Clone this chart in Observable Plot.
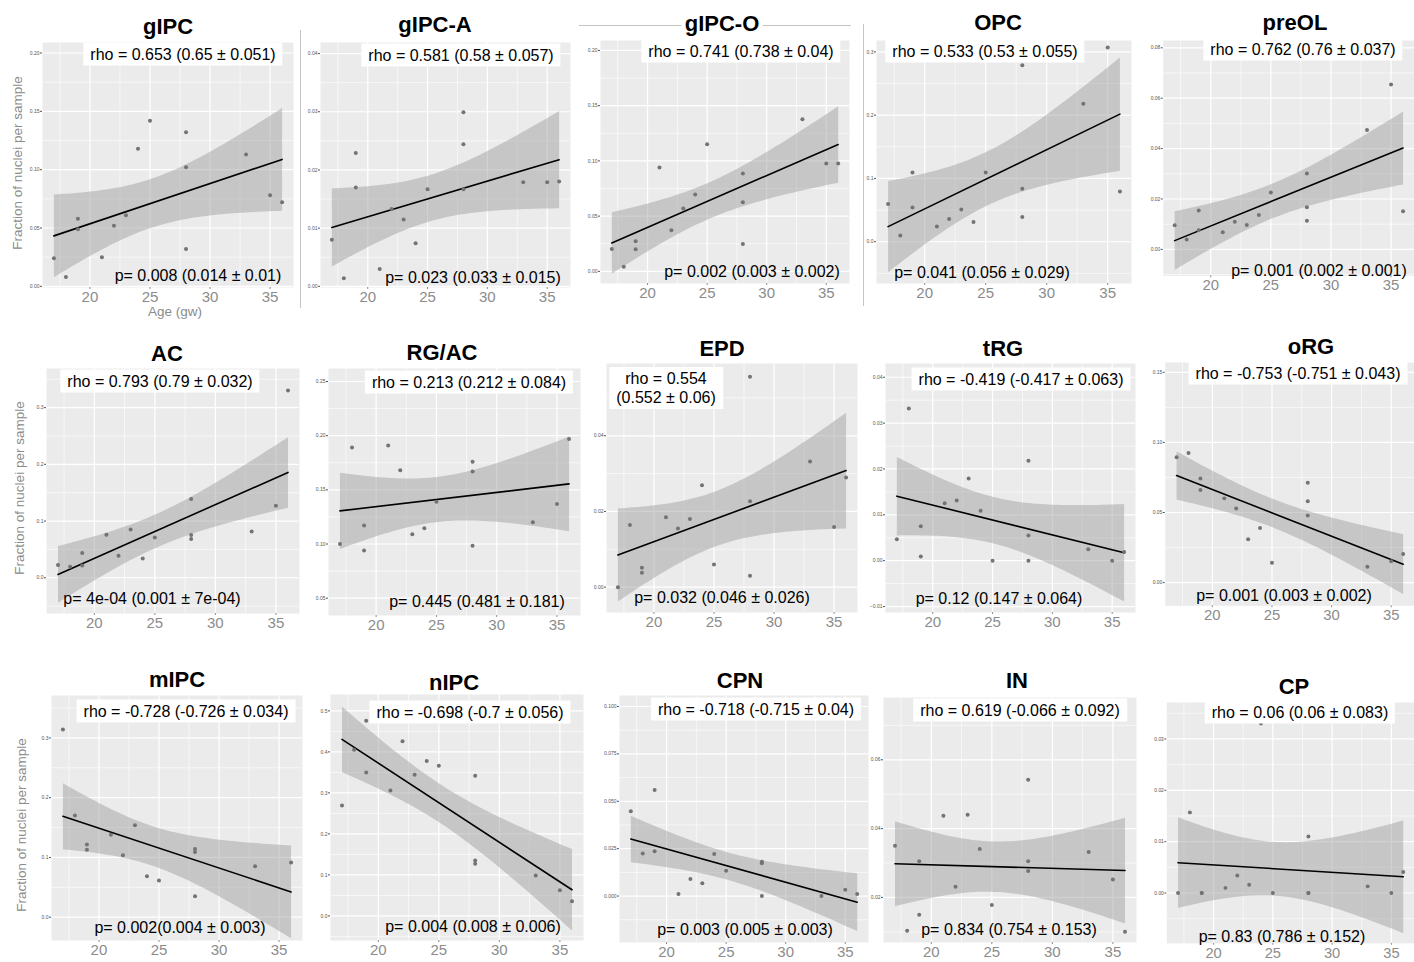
<!DOCTYPE html>
<html><head><meta charset="utf-8">
<script src="https://cdn.jsdelivr.net/npm/d3@7"></script>
<script src="https://cdn.jsdelivr.net/npm/@observablehq/plot@0.6"></script>
<style>
body{margin:0;background:#fff;font-family:"Liberation Sans",Arial,sans-serif;}
#root{position:relative;width:1414px;height:962px;overflow:hidden;background:#fff;}
.panel{position:absolute;}
.title{position:absolute;font-weight:bold;font-size:22px;line-height:22px;transform:translate(-50%,-50%);white-space:nowrap;color:#000;background:#fff;padding:0 3px;}
.rho{position:absolute;background:#fff;font-size:16px;line-height:19px;transform:translate(-50%,-50%);white-space:nowrap;padding:2px 7px;text-align:center;color:#000;}
.pv{position:absolute;font-size:16px;line-height:19px;transform:translate(-50%,-50%);white-space:nowrap;color:#000;}
.ylab{position:absolute;font-size:13.5px;color:#8c8c8c;white-space:nowrap;transform:translate(-50%,-50%) rotate(-90deg);}
.xlab{position:absolute;font-size:13.5px;color:#8c8c8c;white-space:nowrap;transform:translate(-50%,-50%);}
.deco{position:absolute;background:#c4c4c4;}
</style>
</head><body>
<div id="root"></div>
<script>
// ---------------- DATA ----------------
const ages = [17, 18, 19, 19, 21, 22, 23, 24, 25, 28, 28, 28, 33, 35, 36];
const cellTypes = ["gIPC","gIPC-A","gIPC-O","OPC","preOL","AC","RG/AC","EPD","tRG","oRG","mIPC","nIPC","CPN","IN","CP"];

const fracGIPC  = [0.024, 0.008, 0.058, 0.049, 0.025, 0.052, 0.061, 0.118, 0.142, 0.132, 0.102, 0.032, 0.113, 0.078, 0.072];
const fracGIPCA = [0.0080, 0.0014, 0.0229, 0.0170, 0.0030, 0.0133, 0.0115, 0.0074, 0.0167, 0.0299, 0.0244, 0.0167, 0.0179, 0.0179, 0.0180];
const fracGIPCO = [0.0203, 0.0042, 0.0272, 0.0200, 0.094, 0.0372, 0.0569, 0.0696, 0.115, 0.0887, 0.0626, 0.0248, 0.1377, 0.0977, 0.0977];
const fracOPC   = [0.0595, 0.010, 0.1095, 0.054, 0.024, 0.036, 0.051, 0.031, 0.1095, 0.279, 0.0837, 0.039, 0.218, 0.307, 0.0795];
const fracPreOL = [0.0096, 0.0039, 0.0154, 0.0076, 0.0068, 0.011, 0.0097, 0.0136, 0.0226, 0.0301, 0.0167, 0.0114, 0.0474, 0.0654, 0.0151];
const fracAC    = [0.0224, 0.0194, 0.0435, 0.0218, 0.076, 0.0388, 0.0853, 0.0341, 0.0712, 0.139, 0.0753, 0.0682, 0.0818, 0.127, 0.33];
const fracRGAC  = [0.100, 0.189, 0.117, 0.094, 0.191, 0.168, 0.109, 0.1145, 0.139, 0.176, 0.167, 0.0985, 0.120, 0.137, 0.197];
const fracEPD   = [0.000, 0.0164, 0.0051, 0.0038, 0.0185, 0.0155, 0.018, 0.0269, 0.006, 0.0556, 0.0227, 0.003, 0.0332, 0.0159, 0.029];
const fracTRG   = [0.0047, 0.0332, 0.0075, 0.0009, 0.0125, 0.0131, 0.0179, 0.0109, 0.000, 0.0218, 0.0055, 0.000, 0.0025, 0.000, 0.0019];
const fracORG   = [0.0894, 0.0925, 0.0743, 0.066, 0.0601, 0.0528, 0.0309, 0.0389, 0.0142, 0.0712, 0.058, 0.0479, 0.0113, 0.0153, 0.0205];
const fracMIPC  = [0.314, 0.170, 0.1218, 0.1127, 0.138, 0.1037, 0.154, 0.0686, 0.0613, 0.114, 0.109, 0.035, 0.0853, null, 0.0915];
const fracNIPC  = [0.2695, 0.4055, 0.476, 0.350, 0.306, 0.426, 0.344, 0.378, 0.366, 0.342, 0.135, 0.127, 0.0985, 0.0627, 0.0358];
const fracCPN   = [0.0447, 0.0225, 0.0560, 0.0236, 0.0011, 0.009, 0.0067, 0.0222, 0.0134, 0.0181, 0.0173, 0.000, 0.000, 0.0033, 0.0011];
const fracIN    = [0.035, 0.0103, 0.0305, 0.015, 0.0437, 0.0231, 0.044, 0.0341, 0.0178, 0.0542, 0.0305, 0.0277, 0.0332, 0.0252, 0.010];
const fracCP    = [0.0, 0.0157, 0.0, 0.0, 0.001, 0.0034, 0.0016, 0.033, 0.0, 0.011, 0.0, 0.0, 0.0013, 0.0, 0.0041];

const rhoLabels = [
  "rho = 0.653 (0.65 ± 0.051)", "rho = 0.581 (0.58 ± 0.057)", "rho = 0.741 (0.738 ± 0.04)",
  "rho = 0.533 (0.53 ± 0.055)", "rho = 0.762 (0.76 ± 0.037)", "rho = 0.793 (0.79 ± 0.032)",
  "rho = 0.213 (0.212 ± 0.084)", "rho = 0.554<br>(0.552 ± 0.06)", "rho = -0.419 (-0.417 ± 0.063)",
  "rho = -0.753 (-0.751 ± 0.043)", "rho = -0.728 (-0.726 ± 0.034)", "rho = -0.698 (-0.7 ± 0.056)",
  "rho = -0.718 (-0.715 ± 0.04)", "rho = 0.619 (-0.066 ± 0.092)", "rho = 0.06 (0.06 ± 0.083)"
];
const pLabels = [
  "p= 0.008 (0.014 ± 0.01)", "p= 0.023 (0.033 ± 0.015)", "p= 0.002 (0.003 ± 0.002)",
  "p= 0.041 (0.056 ± 0.029)", "p= 0.001 (0.002 ± 0.001)", "p= 4e-04 (0.001 ± 7e-04)",
  "p= 0.445 (0.481 ± 0.181)", "p= 0.032 (0.046 ± 0.026)", "p= 0.12 (0.147 ± 0.064)",
  "p= 0.001 (0.003 ± 0.002)", "p= 0.002(0.004 ± 0.003)", "p= 0.004 (0.008 ± 0.006)",
  "p= 0.003 (0.005 ± 0.003)", "p= 0.834 (0.754 ± 0.153)", "p= 0.83 (0.786 ± 0.152)"
];
const xTicks = [20, 25, 30, 35];
const xDomain = [16.05, 36.95];
const yTicksList = [
  [0, 0.05, 0.10, 0.15, 0.20], [0, 0.01, 0.02, 0.03, 0.04], [0, 0.05, 0.10, 0.15, 0.20],
  [0, 0.1, 0.2, 0.3], [0, 0.02, 0.04, 0.06, 0.08], [0, 0.1, 0.2, 0.3],
  [0.05, 0.10, 0.15, 0.20, 0.25], [0, 0.02, 0.04], [-0.01, 0, 0.01, 0.02, 0.03, 0.04],
  [0, 0.05, 0.10, 0.15], [0, 0.1, 0.2, 0.3], [0, 0.1, 0.2, 0.3, 0.4, 0.5],
  [0, 0.025, 0.05, 0.075, 0.1], [0.02, 0.04, 0.06], [0, 0.01, 0.02, 0.03]
];
const yDecimals = [2, 2, 2, 1, 2, 1, 2, 2, 2, 2, 1, 1, 3, 2, 2];
const yDomains = [
  [-0.001, 0.209], [-0.0002, 0.0419], [-0.011, 0.209], [-0.066, 0.318], [-0.0105, 0.0829],
  [-0.063, 0.369], [0.034, 0.262], [-0.0067, 0.0591], [-0.0113, 0.043], [-0.0165, 0.157],
  [-0.039, 0.371], [-0.06, 0.54], [-0.0245, 0.1058], [0.0069, 0.0781], [-0.0098, 0.0371]
];
const series = [fracGIPC, fracGIPCA, fracGIPCO, fracOPC, fracPreOL, fracAC, fracRGAC, fracEPD,
                fracTRG, fracORG, fracMIPC, fracNIPC, fracCPN, fracIN, fracCP];

// ---------------- LAYOUT ----------------
const frames = [
  [42,42,293,287],[320,42,570,287],[600,40,849,283],[876,40,1131,283],[1163,40,1416,277],
  [46,368,299,613],[328,368,580,615],[606,363,857,612],[885,363,1135,612],[1165,362,1416,607],
  [51,695,302,940],[330,694,583,940],[619,695,868,942],[883,697,1136,942],[1167,702,1420,948]
];
const titlePos = [[168,27],[435,25],[722,24],[998,23],[1295,23],[167,354],[442,353],[722,349],[1003,349],[1311,347],
                  [177,680],[454,683],[740,681],[1017,681],[1294,687]];
const rhoPos = [[183,54],[461,55],[741,51],[985,51],[1303,49],[160,381],[469,382],[666,388],[1021,379],[1298,373],
                [186,711],[470,712],[756,709],[1020,710],[1300,712]];
const pPos = [[198,275],[473,277],[752,271],[982,272],[1319,270],[152,598],[477,601],[722,597],[999,598],[1284,595],
              [180,927],[473,926],[745,929],[1009,929],[1282,936]];

const root = document.getElementById("root");
function addDiv(cls, html, x, y, extra) {
  const d = document.createElement("div");
  d.className = cls; d.innerHTML = html;
  d.style.left = x + "px"; d.style.top = y + "px";
  if (extra) Object.assign(d.style, extra);
  root.appendChild(d); return d;
}
// decorative separator lines present in the source figure
addDiv("deco", "", 579, 25, {width: "272px", height: "1px"});
addDiv("deco", "", 300, 30, {width: "1px", height: "278px"});
addDiv("deco", "", 863, 24, {width: "1px", height: "282px"});

const mL = 34, mB = 26;
cellTypes.forEach((name, i) => {
  const [l, t, r, b] = frames[i];
  const data = ages.map((a, j) => ({age: a, frac: series[i][j]})).filter(d => d.frac != null);
  const yt = yTicksList[i];
  const step = yt[1] - yt[0];
  const minorY = yt.map(v => v - step / 2).concat([yt[yt.length - 1] + step / 2]);
  const minorX = [17.5, 22.5, 27.5, 32.5];
  const fmt = d3.format("." + yDecimals[i] + "f");
  const svg = Plot.plot({
    width: (r - l) + mL, height: (b - t) + mB,
    marginLeft: mL, marginRight: 0, marginTop: 0, marginBottom: mB,
    style: {background: "transparent", overflow: "visible", fontFamily: "Liberation Sans, Arial, sans-serif"},
    x: {domain: xDomain},
    y: {domain: yDomains[i]},
    marks: [
      Plot.frame({fill: "#EBEBEB", stroke: null}),
      Plot.gridX(minorX, {stroke: "#fff", strokeOpacity: 1, strokeWidth: 0.6}),
      Plot.gridY(minorY, {stroke: "#fff", strokeOpacity: 1, strokeWidth: 0.6}),
      Plot.gridX(xTicks, {stroke: "#fff", strokeOpacity: 1, strokeWidth: 1.2}),
      Plot.gridY(yt, {stroke: "#fff", strokeOpacity: 1, strokeWidth: 1.2}),
      Plot.axisX(xTicks, {label: null, fontSize: 15, color: "#8c8c8c", tickSize: 2, tickPadding: 2}),
      Plot.axisY(yt, {label: null, fontSize: 5, color: "#555", tickSize: 2, tickPadding: 1, tickFormat: fmt}),
      Plot.linearRegressionY(data, {x: "age", y: "frac", ci: 0.95, stroke: "#000", strokeWidth: 1.6,
        fill: "#9a9a9a", fillOpacity: 0.45, clip: true}),
      Plot.dot(data, {x: "age", y: "frac", r: 2, fill: "#737373", stroke: null})
    ]
  });
  const wrap = document.createElement("div");
  wrap.className = "panel";
  wrap.style.left = (l - mL) + "px"; wrap.style.top = t + "px";
  wrap.appendChild(svg);
  root.appendChild(wrap);
  addDiv("title", name, titlePos[i][0], titlePos[i][1]);
  addDiv("rho", rhoLabels[i], rhoPos[i][0], rhoPos[i][1]);
  addDiv("pv", pLabels[i], pPos[i][0], pPos[i][1]);
});
// axis titles
addDiv("ylab", "Fraction of nuclei per sample", 17, 163);
addDiv("ylab", "Fraction of nuclei per sample", 19, 488);
addDiv("ylab", "Fraction of nuclei per sample", 21, 825);
addDiv("xlab", "Age (gw)", 175, 311);
</script>
</body></html>
